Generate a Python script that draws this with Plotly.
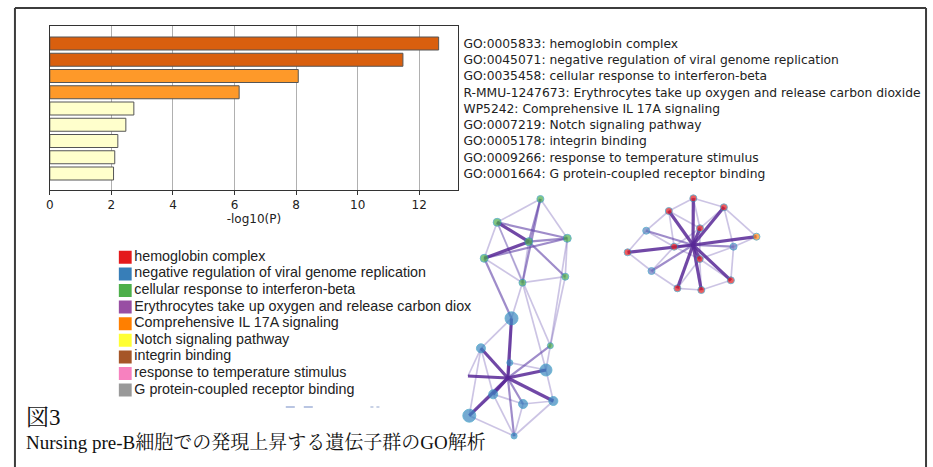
import plotly.graph_objects as go

W, H = 933, 467

# ---------------- bar chart data ----------------
term_labels = [
    "GO:0005833: hemoglobin complex",
    "GO:0045071: negative regulation of viral genome replication",
    "GO:0035458: cellular response to interferon-beta",
    "R-MMU-1247673: Erythrocytes take up oxygen and release carbon dioxide",
    "WP5242: Comprehensive IL 17A signaling",
    "GO:0007219: Notch signaling pathway",
    "GO:0005178: integrin binding",
    "GO:0009266: response to temperature stimulus",
    "GO:0001664: G protein-coupled receptor binding",
]
neg_log10_p = [12.63, 11.47, 8.07, 6.15, 2.73, 2.47, 2.21, 2.11, 2.07]
bar_colors = ["#d95f0e", "#d95f0e", "#fe9929", "#fe9929",
              "#ffffcc", "#ffffcc", "#ffffcc", "#ffffcc", "#ffffcc"]
x_ticks = [0, 2, 4, 6, 8, 10, 12]

# ---------------- network legend ----------------
legend_labels = [
    "hemoglobin complex",
    "negative regulation of viral genome replication",
    "cellular response to interferon-beta",
    "Erythrocytes take up oxygen and release carbon diox",
    "Comprehensive IL 17A signaling",
    "Notch signaling pathway",
    "integrin binding",
    "response to temperature stimulus",
    "G protein-coupled receptor binding",
]
legend_colors = ["#e41a1c", "#377eb8", "#4daf4a", "#984ea3", "#ff7f00",
                 "#ffff33", "#a65628", "#f781bf", "#999999"]

# ---------------- network layout (layout units) ----------------
node_names = ["g1", "g2", "g3", "g4", "g5", "g6", "g7",
              "b1", "b2", "g8", "b3", "b4", "hub1", "b5", "b6", "b7", "b8", "b9", "x1",
              "r1", "r2", "r3", "r4", "r5", "r6", "r7", "r8", "r9", "r10", "r11",
              "r12", "r13", "r14", "hub2"]
node_x = [540.7, 497.3, 529.0, 567.7, 484.3, 522.7, 565.7,
          511.7, 481.0, 550.7, 510.0, 546.3, 508.0, 493.3, 523.3, 553.7, 469.3, 514.3, 468.0,
          694.3, 669.7, 725.0, 647.0, 701.0, 757.7, 675.0, 734.7, 628.3, 700.7, 652.3,
          732.0, 678.3, 702.3, 694.0]
node_y = [199.0, 222.3, 241.7, 238.3, 258.3, 282.7, 276.7,
          318.3, 348.3, 345.7, 362.7, 370.0, 378.0, 394.3, 404.0, 401.0, 415.7, 436.0, 376.0,
          198.3, 211.0, 207.3, 230.7, 228.3, 236.7, 246.7, 246.7, 252.3, 259.0, 271.0,
          280.3, 288.3, 290.0, 245.0]
node_fill = ["#4daf4a"] * 7 + [
    "#3b87c0", "#3b87c0", "#4daf4a", "#3b87c0", "#3b87c0", "rgba(0,0,0,0)",
    "#3b87c0", "#3b87c0", "#3b87c0", "#3b87c0", "#3b87c0", "rgba(0,0,0,0)",
    "#e41a1c", "#e41a1c", "#e41a1c", "#5f82bf", "#e41a1c", "#ff8c1a", "#e41a1c",
    "#6a78c0", "#e41a1c", "#e41a1c", "#6a78c0", "#e41a1c", "#e41a1c", "#e41a1c",
    "rgba(0,0,0,0)"]
node_size = [7, 8, 8, 8, 8, 7, 7,
             13, 9, 6, 6, 12, 0, 9, 9, 9, 13, 6, 0,
             7, 7, 7, 7, 7, 7, 7, 7, 7, 7, 7, 7, 7, 7, 0]

edges_thick = [("g2", "g3"), ("g3", "g5"),
               ("hub1", "b1"), ("hub1", "b2"), ("hub1", "b4"), ("hub1", "b7"),
               ("hub1", "b8"), ("hub1", "x1"), ("hub1", "b5"),
               ("hub2", "r1"), ("hub2", "r2"), ("hub2", "r3"), ("hub2", "r9"),
               ("hub2", "r6"), ("hub2", "r12"), ("hub2", "r13"), ("hub2", "r14"),
               ("hub2", "r5"), ("hub2", "r10")]
edges_medium = [("g1", "g3"), ("g3", "g4"), ("g1", "g6"), ("g2", "g4"), ("g5", "g4"),
                ("g3", "g7"), ("g5", "b1"), ("hub1", "g8"), ("hub1", "b6"),
                ("hub1", "b9"), ("hub1", "b3"), ("hub2", "r4"), ("hub2", "r11"),
                ("hub2", "r7"), ("hub2", "r8")]
edges_light = [("g1", "g2"), ("g1", "g4"), ("g2", "g5"), ("g2", "g6"), ("g4", "g7"),
               ("g6", "g7"), ("g5", "g6"), ("g3", "g6"), ("g6", "b1"), ("g2", "g8"),
               ("g7", "g8"), ("g4", "g8"), ("g6", "b4"), ("b1", "b2"), ("b2", "b5"),
               ("b2", "b8"), ("b4", "b7"), ("b4", "g8"), ("b7", "b9"), ("b8", "b9"),
               ("b5", "b8"), ("b6", "b9"), ("b6", "b7"), ("b1", "b3"), ("b5", "b6"),
               ("b2", "x1"), ("b3", "b4"), ("b5", "b9"),
               ("r1", "r2"), ("r1", "r3"), ("r2", "r4"), ("r3", "r8"), ("r4", "r9"),
               ("r9", "r11"), ("r11", "r13"), ("r13", "r14"), ("r14", "r12"),
               ("r12", "r8"), ("r8", "r6"), ("r5", "r7"), ("r7", "r10"), ("r10", "r5"),
               ("r2", "r5"), ("r3", "r5"), ("r7", "r11"), ("r10", "r12"), ("r1", "r5"),
               ("r2", "r7"), ("r4", "r7"), ("r8", "r10"), ("r10", "r14"), ("r10", "r13"),
               ("r3", "r6")]

# ---------------- figure ----------------
fig = go.Figure()

fig.add_trace(go.Bar(
    x=neg_log10_p, y=list(range(len(term_labels))), orientation="h",
    width=0.8, marker=dict(color=bar_colors, line=dict(color="#555555", width=1)),
    xaxis="x", yaxis="y", showlegend=False, hoverinfo="skip"))

idx = {n: i for i, n in enumerate(node_names)}


def edge_xy(edges):
    xs, ys = [], []
    for a, b in edges:
        xs += [node_x[idx[a]], node_x[idx[b]], None]
        ys += [node_y[idx[a]], node_y[idx[b]], None]
    return xs, ys


for edges, col, wd in [(edges_light, "rgba(120,100,185,0.38)", 1.7),
                       (edges_medium, "rgba(100,70,170,0.62)", 2.2),
                       (edges_thick, "rgba(88,40,150,0.85)", 3.2)]:
    ex, ey = edge_xy(edges)
    fig.add_trace(go.Scatter(x=ex, y=ey, mode="lines", line=dict(color=col, width=wd),
                             xaxis="x2", yaxis="y2", showlegend=False, hoverinfo="skip"))

fig.add_trace(go.Scatter(
    x=node_x, y=node_y, mode="markers",
    marker=dict(color=node_fill, size=node_size,
                line=dict(color="rgba(40,150,190,0.9)",
                          width=[1 if s > 0 else 0 for s in node_size])),
    xaxis="x2", yaxis="y2", showlegend=False, hoverinfo="skip"))

fig.add_trace(go.Scatter(
    x=[0] * len(legend_labels), y=legend_labels, mode="markers+text",
    marker=dict(symbol="square", size=13, color=legend_colors, line=dict(width=0)),
    text=legend_labels, textposition="middle right",
    textfont=dict(family="Liberation Sans, Arial, sans-serif", size=14.3, color="#222222"),
    xaxis="x3", yaxis="y3", showlegend=False, hoverinfo="skip"))

tick_font = dict(family="DejaVu Sans, sans-serif", size=12, color="#222222")
label_font = dict(family="DejaVu Sans, sans-serif", size=12.3, color="#222222")
serif_cjk = "Liberation Serif, Noto Serif CJK JP, Noto Sans CJK JP, serif"
frame_line = dict(color="#3c3c3c", width=2)

fig.update_layout(
    width=W, height=H, margin=dict(l=0, r=0, t=0, b=0),
    paper_bgcolor="white", plot_bgcolor="rgba(0,0,0,0)",
    xaxis=dict(domain=[46 / W, 456 / W], range=[0, 13.26], tickvals=x_ticks,
               showgrid=True, gridcolor="#b0b0b0", gridwidth=1, zeroline=False,
               showline=True, linecolor="#333333", linewidth=1, mirror=True,
               ticks="outside", ticklen=4, tickcolor="#333333", tickfont=tick_font,
               title=dict(text="-log10(P)", font=tick_font, standoff=3),
               anchor="y", fixedrange=True),
    yaxis=dict(domain=[1 - 190 / H, 1 - 26 / H], range=[9.015, -1.077],
               tickvals=list(range(len(term_labels))), ticktext=term_labels,
               side="right", ticks="", showgrid=False, zeroline=False,
               showline=True, linecolor="#333333", linewidth=1, mirror=True,
               tickfont=label_font, ticklabelstandoff=2, anchor="x", fixedrange=True),
    xaxis2=dict(domain=[0, 1], range=[2, W + 2], visible=False, anchor="y2", fixedrange=True),
    yaxis2=dict(domain=[0, 1], range=[H, 0], visible=False, anchor="x2", fixedrange=True),
    xaxis3=dict(domain=[115 / W, 478 / W], range=[-6.7, 356.3], visible=False,
                anchor="y3", fixedrange=True),
    yaxis3=dict(domain=[1 - 398.4 / H, 1 - 249 / H], range=[8.5, -0.5], type="category",
                categoryorder="array", categoryarray=legend_labels,
                visible=False, anchor="x3", fixedrange=True),
    shapes=[
        dict(type="line", xref="paper", yref="paper", x0=11 / W, x1=11 / W,
             y0=0, y1=1 - 8 / H, line=frame_line, layer="above"),
        dict(type="line", xref="paper", yref="paper", x0=926 / W, x1=926 / W,
             y0=0, y1=1 - 8 / H, line=frame_line, layer="above"),
        dict(type="line", xref="paper", yref="paper", x0=11 / W, x1=926 / W,
             y0=1 - 8 / H, y1=1 - 8 / H, line=frame_line, layer="above"),
        dict(type="line", xref="paper", yref="paper", x0=283 / W, x1=311 / W,
             y0=1 - 407 / H, y1=1 - 407 / H,
             line=dict(color="#b9c5e2", width=2, dash="dash")),
        dict(type="line", xref="paper", yref="paper", x0=368 / W, x1=378 / W,
             y0=1 - 407 / H, y1=1 - 407 / H,
             line=dict(color="#c9d2e6", width=2, dash="dot")),
    ],
    annotations=[
        dict(text="図3", xref="paper", yref="paper", x=20 / W, y=1 - 417 / H,
             xanchor="left", yanchor="middle", showarrow=False,
             font=dict(family=serif_cjk, size=23, color="#111111")),
        dict(text="Nursing pre-B細胞での発現上昇する遺伝子群のGO解析", xref="paper", yref="paper",
             x=20 / W, y=1 - 442 / H, xanchor="left", yanchor="middle", showarrow=False,
             font=dict(family=serif_cjk, size=19, color="#111111")),
    ],
)

fig.write_html("out.html", config={"displayModeBar": False},
               post_script="document.body.style.margin='0';document.body.style.overflow='hidden';")
